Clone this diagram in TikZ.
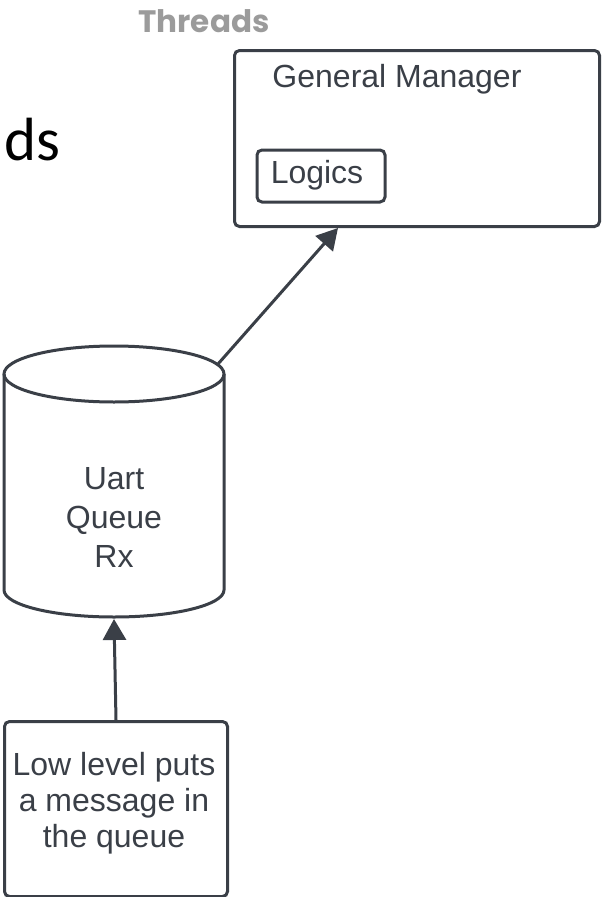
\documentclass[tikz,border=0pt]{standalone}
\usepackage{fontspec}
\setmainfont{Liberation Sans}
\newfontfamily\titlefont{Poppins}
\newfontfamily\slidefont{Carlito}
\usetikzlibrary{arrows.meta}
\definecolor{ink}{HTML}{3A3F47}
\definecolor{fade}{HTML}{9B9B9B}
\tikzset{
  frame/.style={draw=ink, line width=3pt, rounded corners=5pt, inner sep=0pt, anchor=north west},
  label/.style={text=ink, font=\fontsize{32}{38}\selectfont, inner sep=0pt},
  flow/.style={draw=ink, line width=3pt, -{Triangle[length=21pt,width=23pt]}},
}
\begin{document}
\begin{tikzpicture}[x=1pt,y=-1pt]
\useasboundingbox (0,0) rectangle (605,897);

% heading fragments
\node[text=fade, font=\titlefont\bfseries\fontsize{31}{34}\selectfont, inner sep=0pt] (title) at (204,21) {Threads};
\node[text=black, font=\slidefont\fontsize{61}{65}\selectfont, inner sep=0pt, anchor=base east] (frag) at (61,160) {ds};

% general manager thread
\node[frame, minimum width=365pt, minimum height=176pt] (gm) at (233,49) {};
\node[label, anchor=base] (gmtext) at (397,87) {General Manager};
\node[frame, anchor=center, minimum width=128pt, minimum height=52pt] (logic) at (321,176) {};
\node[label] (logictext) at (317,175) {Logics};

% receive queue drawn as a cylinder
\draw[ink, line width=3pt] (4,374) -- (4,590) arc[start angle=180, end angle=0, x radius=110, y radius=27] -- (224,374);
\draw[ink, line width=3pt] (114,374) ellipse [x radius=110, y radius=28];
\node[label, align=center, font=\fontsize{32}{39}\selectfont] (queue) at (114,517) {Uart\\Queue\\Rx};
\coordinate (qtop) at (218,364);
\coordinate (qbot) at (114,619);
\coordinate (gmin) at (338,228);

% low level producer
\node[frame, minimum width=223pt, minimum height=175pt] (low) at (3,720) {};
\node[label, align=center, font=\fontsize{32}{36}\selectfont] (lowtext) at (114,803) {Low level puts\\a message in\\the queue};

% connectors
\draw[flow] (low.north) -- (qbot);
\draw[flow] (qtop) -- (gmin);
\end{tikzpicture}
\end{document}
